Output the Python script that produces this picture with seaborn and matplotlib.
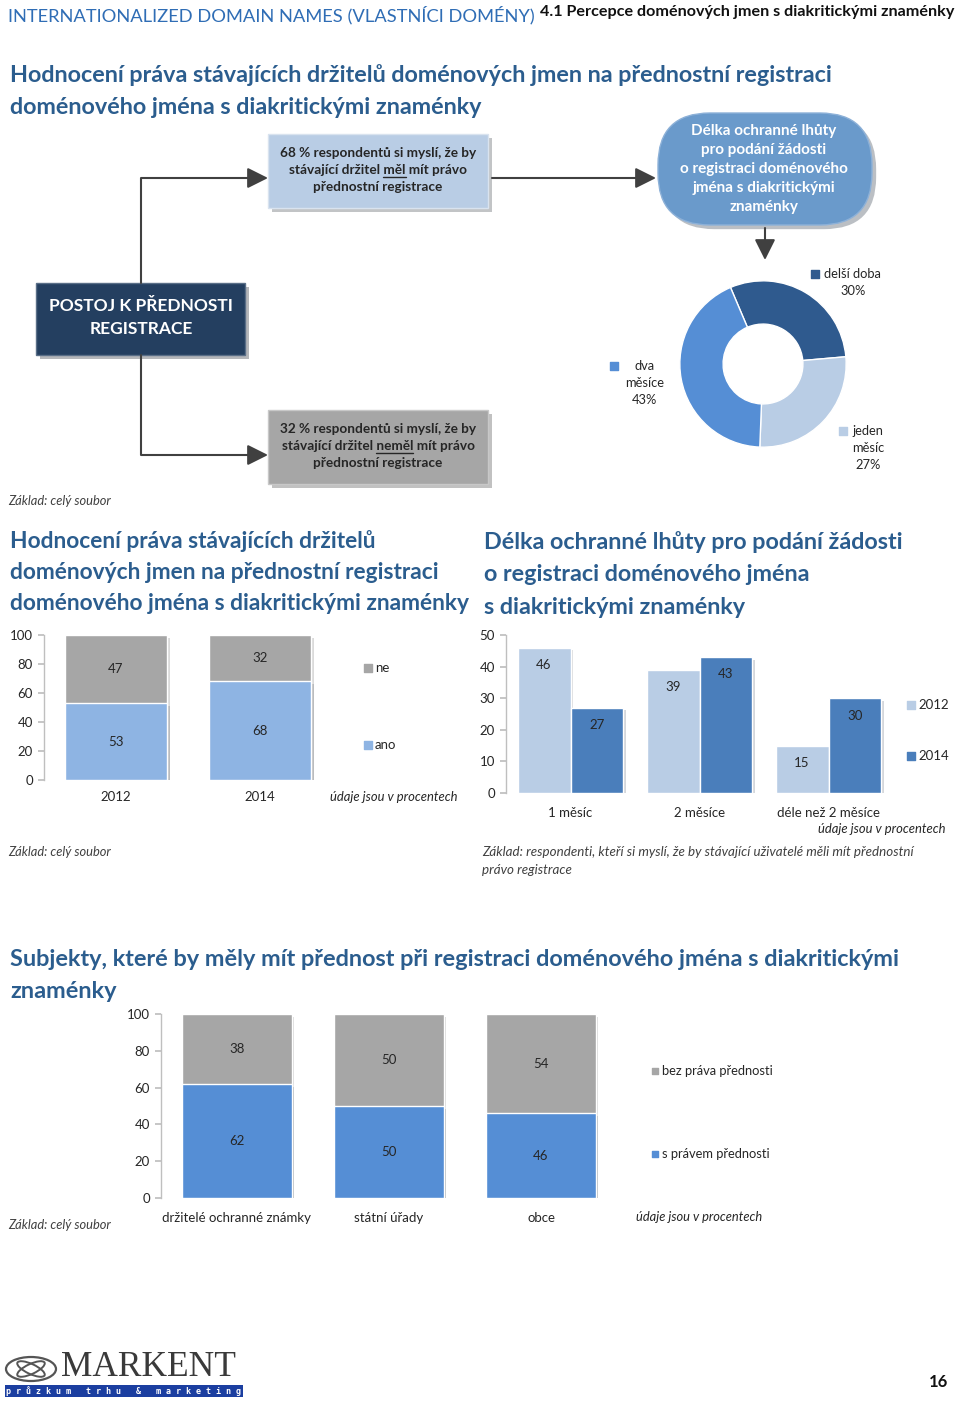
import numpy as np
import pandas as pd
import matplotlib
matplotlib.use('Agg')
import matplotlib.pyplot as plt
import matplotlib.patheffects as pe
from matplotlib.patches import FancyBboxPatch, Rectangle, Ellipse
import seaborn as sns

# ---------------- data ----------------
years = ['2012', '2014']
ano = [53, 68]
ne = [47, 32]

periods = ['1 měsíc', '2 měsíce', 'déle než 2 měsíce']
p2012 = [46, 39, 15]
p2014 = [27, 43, 30]

subjects = ['držitelé ochranné známky', 'státní úřady', 'obce']
s_pravem = [62, 50, 46]
bez_prava = [38, 50, 54]

donut_labels = ['delší doba', 'jeden měsíc', 'dva měsíce']
donut_vals = [30, 27, 43]

# ---------------- style ----------------
sns.set_theme(style='white')
plt.rcParams['font.family'] = ['Lato', 'DejaVu Sans']
NARROW = ['Lato', 'DejaVu Sans']

TITLE_C = '#2B5D8E'
HEAD_C = '#2F6DB5'
TXT = '#262626'
GREY = '#A6A6A6'
BLUE_LIGHT = '#8EB4E3'
C2012 = '#B9CDE5'
C2014 = '#4A7EBB'
BLUE_MED = '#558ED5'

W, H = 960, 1403
fig = plt.figure(figsize=(W / 100, H / 100), dpi=100)
fig.patch.set_facecolor('white')


def px_axes(x0, y0, x1, y1):
    return fig.add_axes([x0 / W, 1 - y1 / H, (x1 - x0) / W, (y1 - y0) / H])


bg = fig.add_axes([0, 0, 1, 1])
bg.set_xlim(0, W)
bg.set_ylim(H, 0)
bg.axis('off')


def T(x, y, s, size=9, ha='left', va='center', color=TXT, **kw):
    return bg.text(x, y, s, fontsize=size, ha=ha, va=va, color=color, **kw)


renderer = fig.canvas.get_renderer()


def text_width(s, **kw):
    t = bg.text(0, 0, s, **kw)
    w = t.get_window_extent(renderer).width
    t.remove()
    return w


def underline(xc, y, full, upto, word, **kw):
    fw = text_width(full, **kw)
    pw = text_width(upto, **kw)
    ww = text_width(word, **kw)
    x1 = xc - fw / 2 + pw
    bg.plot([x1 - ww, x1], [y + 7, y + 7], color=TXT, lw=1)


shadow = [pe.SimplePatchShadow(offset=(3, -3), alpha=0.3), pe.Normal()]
bar_shadow = [pe.SimplePatchShadow(offset=(2, -2), alpha=0.18), pe.Normal()]

# ---------------- header ----------------
T(8, 15, 'INTERNATIONALIZED DOMAIN NAMES (VLASTNÍCI DOMÉNY)', size=13.2, color=HEAD_C)
T(540, 12, '4.1 Percepce doménových jmen s diakritickými znaménky', size=11.6,
  color='#111111', weight='bold')

T(10, 75, 'Hodnocení práva stávajících držitelů doménových jmen na přednostní registraci',
  size=16.8, color=TITLE_C, weight='bold')
T(10, 107, 'doménového jména s diakritickými znaménky', size=16.8, color=TITLE_C, weight='bold')

# ---------------- flow diagram ----------------
LINE_C = '#404040'
bg.plot([141, 141, 258], [283, 178, 178], color=LINE_C, lw=1.5)
bg.plot([141, 141, 258], [355, 455, 455], color=LINE_C, lw=1.5)
arrow = dict(arrowstyle='-|>,head_length=0.7,head_width=0.35', color=LINE_C, lw=1.5,
             mutation_scale=18, shrinkA=0, shrinkB=0)
bg.annotate('', xy=(268, 178), xytext=(250, 178), arrowprops=arrow)
bg.annotate('', xy=(268, 455), xytext=(250, 455), arrowprops=arrow)
bg.annotate('', xy=(656, 178), xytext=(492, 178), arrowprops=arrow)
bg.annotate('', xy=(765, 260), xytext=(765, 228), arrowprops=arrow)

boxA = FancyBboxPatch((268, 134), 220, 74, boxstyle='square,pad=0', fc='#B9CDE5',
                      ec='#D9E3EF', lw=1, path_effects=shadow)
boxB = FancyBboxPatch((268, 410), 220, 74, boxstyle='square,pad=0', fc='#A6A6A6',
                      ec='#C8C8C8', lw=1, path_effects=shadow)
boxC = FancyBboxPatch((36, 283), 209, 72, boxstyle='square,pad=0', fc='#243F60',
                      ec='#5A6F88', lw=1, path_effects=shadow)
oval = FancyBboxPatch((658, 113), 214, 112, boxstyle='round,pad=0,rounding_size=52',
                      fc='#6A9ACB', ec='#8DB1D8', lw=1, path_effects=shadow)
for p in (boxA, boxB, boxC, oval):
    bg.add_patch(p)

BOX_FS = 9.8
bkw = dict(fontsize=BOX_FS, weight='bold', family=NARROW)
linesA = ['68 % respondentů si myslí, že by', 'stávající držitel měl mít právo',
          'přednostní registrace']
for i, s in enumerate(linesA):
    T(378, 153 + 17 * i, s, ha='center', size=BOX_FS, weight='bold', family=NARROW)
underline(378, 170, linesA[1], 'stávající držitel měl', 'měl', **bkw)

linesB = ['32 % respondentů si myslí, že by', 'stávající držitel neměl mít právo',
          'přednostní registrace']
for i, s in enumerate(linesB):
    T(378, 429 + 17 * i, s, ha='center', size=BOX_FS, weight='bold', family=NARROW)
underline(378, 446, linesB[1], 'stávající držitel neměl', 'neměl', **bkw)

T(141, 306, 'POSTOJ K PŘEDNOSTI', ha='center', size=12.5, weight='bold', color='white', family=NARROW)
T(141, 329, 'REGISTRACE', ha='center', size=12.5, weight='bold', color='white', family=NARROW)

for i, s in enumerate(['Délka ochranné lhůty', 'pro podání žádosti', 'o registraci doménového',
                       'jména s diakritickými', 'znaménky']):
    T(764, 131 + 19 * i, s, ha='center', size=11, weight='bold', color='white', family=NARROW)

# ---------------- donut ----------------
axd = px_axes(679, 280, 847, 448)
axd.pie(donut_vals, colors=['#2F5A8E', C2012, BLUE_MED], startangle=113, counterclock=False,
        wedgeprops=dict(width=0.52, edgecolor='white', linewidth=1))
axd.set_xlim(-1.01, 1.01)
axd.set_ylim(-1.01, 1.01)
axd.set_aspect('equal')
axd.patch.set_visible(False)

bg.scatter([815], [274], marker='s', s=30, color='#2F5A8E')
T(824, 274, donut_labels[0], size=9.3, family=NARROW)
T(853, 291, f'{donut_vals[0]}%', size=9.3, ha='center', family=NARROW)
bg.scatter([614], [366], marker='s', s=30, color=BLUE_MED)
T(645, 366, 'dva', size=9.3, ha='center', family=NARROW)
T(645, 383, 'měsíce', size=9.3, ha='center', family=NARROW)
T(645, 400, f'{donut_vals[2]}%', size=9.3, ha='center', family=NARROW)
bg.scatter([843], [431], marker='s', s=30, color=C2012)
T(868, 431, 'jeden', size=9.3, ha='center', family=NARROW)
T(868, 448, 'měsíc', size=9.3, ha='center', family=NARROW)
T(868, 465, f'{donut_vals[1]}%', size=9.3, ha='center', family=NARROW)

T(8, 501, 'Základ: celý soubor', size=9.3, style='italic', color='#404040', family=NARROW)

# ---------------- section 2 titles ----------------
for i, s in enumerate(['Hodnocení práva stávajících držitelů',
                       'doménových jmen na přednostní registraci',
                       'doménového jména s diakritickými znaménky']):
    T(10, 541 + 31.5 * i, s, size=16.4, color=TITLE_C, weight='bold')
for i, s in enumerate(['Délka ochranné lhůty pro podání žádosti',
                       'o registraci doménového jména',
                       's diakritickými znaménky']):
    T(484, 542 + 32.5 * i, s, size=16.8, color=TITLE_C, weight='bold')


def style_axis(ax, pad_x):
    for sp in ('top', 'right', 'bottom'):
        ax.spines[sp].set_visible(False)
    ax.spines['left'].set_color('#BFBFBF')
    ax.spines['left'].set_linewidth(1)
    ax.patch.set_visible(False)
    ax.set_xlabel('')
    ax.set_ylabel('')
    ax.tick_params(axis='y', length=4, color='#BFBFBF', labelsize=9.5, labelcolor=TXT, pad=4,
                   direction='out', left=True)
    ax.tick_params(axis='x', length=0, labelsize=9.5, labelcolor=TXT, pad=pad_x)


# ---------------- chart 1: stacked 2012/2014 ----------------
ax1 = px_axes(44, 635, 332, 780)
total1 = [a + b for a, b in zip(ano, ne)]
sns.barplot(x=years, y=total1, color=GREY, width=0.71, saturation=1, errorbar=None, ax=ax1)
sns.barplot(x=years, y=ano, color=BLUE_LIGHT, width=0.71, saturation=1, errorbar=None, ax=ax1)
ax1.set_ylim(0, 100)
ax1.set_yticks(range(0, 101, 20))
style_axis(ax1, 8)
for bar in ax1.patches:
    bar.set_path_effects(bar_shadow)
for bar, a, n in zip(ax1.containers[1], ano, ne):
    xc = bar.get_x() + bar.get_width() / 2
    ax1.text(xc, a / 2, str(a), ha='center', va='center', fontsize=9.5, color=TXT)
    ax1.text(xc, a + n / 2, str(n), ha='center', va='center', fontsize=9.5, color=TXT)

bg.scatter([368], [668], marker='s', s=28, color=GREY)
T(375, 668, 'ne', size=9.5)
bg.scatter([368], [745], marker='s', s=28, color=BLUE_LIGHT)
T(375, 745, 'ano', size=9.5)
T(394, 797, 'údaje jsou v procentech', size=9.4, ha='center', style='italic')
T(8, 852, 'Základ: celý soubor', size=9.3, style='italic', color='#404040')

# ---------------- chart 2: grouped ----------------
ax2 = px_axes(506, 635, 893, 793)
df2 = pd.DataFrame({'period': periods * 2,
                    'year': [years[0]] * len(periods) + [years[1]] * len(periods),
                    'val': p2012 + p2014})
sns.barplot(data=df2, x='period', y='val', hue='year', hue_order=years,
            palette={years[0]: C2012, years[1]: C2014}, width=0.82, gap=0, saturation=1,
            errorbar=None, legend=False, ax=ax2)
ax2.set_ylim(0, 50)
ax2.set_yticks(range(0, 51, 10))
style_axis(ax2, 10)
for cont in ax2.containers:
    for bar in cont:
        bar.set_path_effects(bar_shadow)
        ax2.annotate(f'{bar.get_height():.0f}', (bar.get_x() + bar.get_width() / 2, bar.get_height()),
                     xytext=(0, -12.5), textcoords='offset points', ha='center', va='center',
                     fontsize=9.5, color=TXT)

bg.scatter([911], [705], marker='s', s=28, color=C2012)
T(918, 705, '2012', size=9.5)
bg.scatter([911], [756], marker='s', s=28, color=C2014)
T(918, 756, '2014', size=9.5)
T(946, 829, 'údaje jsou v procentech', size=9.4, ha='right', style='italic')
T(482, 852, 'Základ: respondenti, kteří si myslí, že by stávající uživatelé měli mít přednostní',
  size=9.6, style='italic', color='#404040')
T(482, 870, 'právo registrace', size=9.6, style='italic', color='#404040')

# ---------------- section 3 ----------------
T(10, 960, 'Subjekty, které by měly mít přednost při registraci doménového jména s diakritickými',
  size=16.9, color=TITLE_C, weight='bold')
T(10, 992, 'znaménky', size=16.9, color=TITLE_C, weight='bold')

ax3 = px_axes(161, 1014, 617, 1198)
total3 = [a + b for a, b in zip(s_pravem, bez_prava)]
sns.barplot(x=subjects, y=total3, color=GREY, width=0.72, saturation=1, errorbar=None, ax=ax3)
sns.barplot(x=subjects, y=s_pravem, color=BLUE_MED, width=0.72, saturation=1, errorbar=None, ax=ax3)
ax3.set_ylim(0, 100)
ax3.set_yticks(range(0, 101, 20))
style_axis(ax3, 10)
for bar in ax3.patches:
    bar.set_path_effects(bar_shadow)
for bar, a, b in zip(ax3.containers[1], s_pravem, bez_prava):
    xc = bar.get_x() + bar.get_width() / 2
    ax3.text(xc, a / 2, str(a), ha='center', va='center', fontsize=9.5, color=TXT)
    ax3.text(xc, a + b / 2, str(b), ha='center', va='center', fontsize=9.5, color=TXT)

bg.scatter([655], [1071], marker='s', s=24, color=GREY)
T(662, 1071, 'bez práva přednosti', size=9.3)
bg.scatter([655], [1154], marker='s', s=24, color=BLUE_MED)
T(662, 1154, 's právem přednosti', size=9.3)
T(636, 1217, 'údaje jsou v procentech', size=9.3, style='italic')
T(8, 1225, 'Základ: celý soubor', size=9.3, style='italic', color='#404040')

# ---------------- footer / logo ----------------
bg.add_patch(Ellipse((31, 1369), 50, 24, fill=False, ec='#555555', lw=1.6))
bg.add_patch(Ellipse((31, 1369), 30, 10, angle=25, fill=False, ec='#555555', lw=1.4))
bg.add_patch(Ellipse((31, 1369), 30, 10, angle=-25, fill=False, ec='#555555', lw=1.4))
T(61, 1384, 'MARKENT', size=25.5, va='bottom', color='#3A3A3A',
  family=['Liberation Serif', 'DejaVu Serif'])
bg.add_patch(Rectangle((5, 1385), 238, 12, fc='#1B3EA0', ec='none'))
T(124, 1391, 'p r ů z k u m   t r h u   &   m a r k e t i n g', size=6.0, ha='center',
  color='white', weight='bold', family=['DejaVu Sans Mono', 'DejaVu Sans'])
T(938, 1382, '16', size=12, ha='center', weight='bold', color='#111111')

fig.savefig('out.png', dpi=100, facecolor='white')
